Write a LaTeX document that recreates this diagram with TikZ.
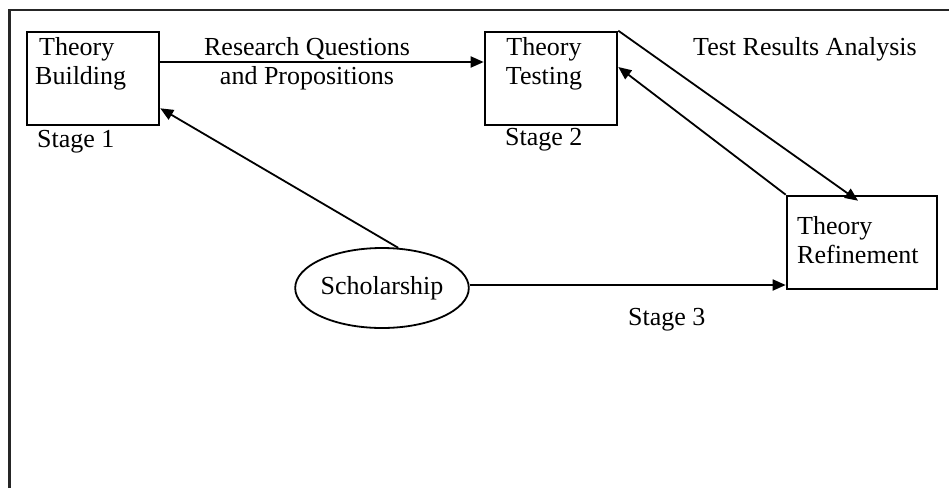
\documentclass[tikz,border=0pt]{standalone}
\usepackage{fontspec}
\setmainfont{Liberation Serif}
\usetikzlibrary{arrows.meta,shapes.geometric}

\tikzset{
  stagebox/.style={draw, line width=2.6pt, minimum width=132pt, minimum height=93pt, inner sep=0pt},
  label/.style={inner sep=0pt, font=\fontsize{26}{29.5}\selectfont},
  flow/.style={line width=1.8pt, -{Triangle[length=13pt,width=11pt]}},
  frameline/.style={line width=2.2pt, draw=black!85}
}

\begin{document}
\begin{tikzpicture}[x=1pt,y=-1pt]
  \useasboundingbox (0,0) rectangle (949,488);

  % page frame (top and left edges)
  \coordinate (fbl) at (9.5,488);
  \coordinate (ftl) at (9.5,10);
  \coordinate (ftr) at (949,10);
  \draw[frameline] (fbl) -- (ftl) -- (ftr);

  % boxes
  \node[stagebox] (bld) at (93,78.5) {};
  \node[stagebox] (tst) at (551,78.5) {};
  \node[stagebox, minimum width=150pt] (ref) at (862,242.5) {};
  \node[draw, ellipse, line width=1.8pt, minimum width=172pt, minimum height=80pt,
        inner sep=0pt, font=\fontsize{26}{29.5}\selectfont] (sch) at (382,288) {Scholarship};

  % box texts (base anchor sits on the last line)
  \node[label, anchor=base west, align=left] (bldtxt) at (35,84.5) {\hspace*{4pt}Theory\\Building};
  \node[label, anchor=base, align=center] (tsttxt) at (544,84.5) {Theory\\Testing};
  \node[label, anchor=base west, align=left] (reftxt) at (797,263.5) {Theory\\Refinement};

  % free labels
  \node[label, anchor=base, align=center] (rq) at (307,84.5) {Research Questions\\and Propositions};
  \node[label, anchor=base west] (tra) at (693,55) {Test Results Analysis};
  \node[label, anchor=base west] (st1) at (37,147) {Stage 1};
  \node[label, anchor=base west] (st2) at (505,145) {Stage 2};
  \node[label, anchor=base west] (st3) at (628,325) {Stage 3};

  % connectors
  \draw[flow] ([yshift=16.5pt]bld.east) -- ([yshift=16.5pt]tst.west);
  \draw[flow] (tst.north east) -- ([xshift=-4pt,yshift=-6pt]ref.north);
  \draw[flow] (ref.north west) -- ([yshift=11.5pt]tst.east);
  \draw[flow] ([yshift=3pt]sch.east) -- ([yshift=3pt]sch.east -| ref.west);
  \draw[flow] (sch.68) -- ([yshift=18pt]bld.south east);
\end{tikzpicture}
\end{document}
